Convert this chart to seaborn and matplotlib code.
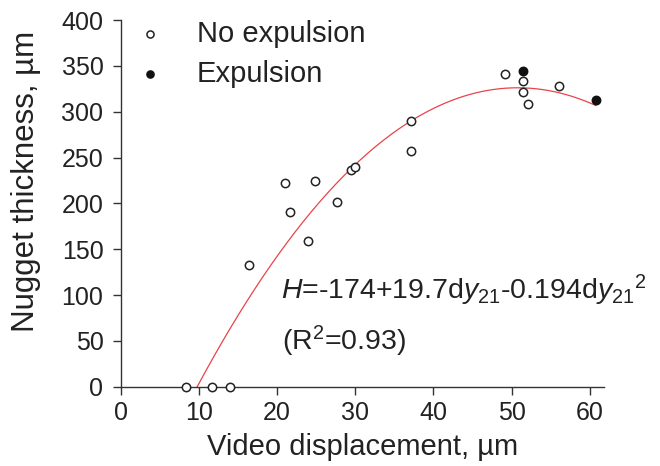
import numpy as np
import pandas as pd
import matplotlib
matplotlib.use("Agg")
import matplotlib.pyplot as plt
import seaborn as sns

# Measured welds: video displacement dy21 (µm) vs nugget thickness H (µm)
no_exp_x = [8.4, 11.7, 14.0, 16.4, 21.0, 21.6, 24.8, 23.9, 27.6, 29.5, 30.0,
            37.1, 37.1, 49.1, 51.4, 51.4, 52.1, 56.1]
no_exp_y = [0, 0, 0, 133, 222, 191, 224, 159, 202, 236, 240,
            290, 257, 341, 334, 321, 308, 328]
exp_x = [51.4, 60.8]
exp_y = [344, 313]

# Quadratic fit H = c0 + c1*dy + c2*dy^2
coef = [-174, 19.7, -0.194]
r_squared = 0.93

x_ticks = [0, 10, 20, 30, 40, 50, 60]
y_ticks = [0, 50, 100, 150, 200, 250, 300, 350, 400]

sns.set_theme(style="ticks")
plt.rcParams["font.family"] = ["Liberation Sans", "DejaVu Sans"]
plt.rcParams["mathtext.fontset"] = "custom"
plt.rcParams["mathtext.rm"] = "Liberation Sans"
plt.rcParams["mathtext.it"] = "Liberation Sans:italic"
plt.rcParams["mathtext.bf"] = "Liberation Sans:bold"

text_col = "#222222"
tick_fs = 18
xlabel_fs = 21
ylabel_fs = 22.5
legend_fs = 21
eq_fs = 20.5

fig = plt.figure(figsize=(6.6, 4.66), dpi=100)
ax = fig.add_axes([0.183, 0.170, 0.732, 0.787])

df_no = pd.DataFrame({"dy": no_exp_x, "H": no_exp_y})
df_ex = pd.DataFrame({"dy": exp_x, "H": exp_y})

# Fitted curve from its root to the last measurement
c0, c1, c2 = coef
root = (-c1 + np.sqrt(c1 ** 2 - 4 * c2 * c0)) / (2 * c2)
xs = np.linspace(root, max(exp_x + no_exp_x), 200)
fit = pd.DataFrame({"dy": xs, "H": c0 + c1 * xs + c2 * xs ** 2})
sns.lineplot(data=fit, x="dy", y="H", ax=ax, color="#e8444a", linewidth=0.9,
             zorder=2, legend=False)

sns.scatterplot(data=df_no, x="dy", y="H", ax=ax, s=36, marker="o",
                facecolor="white", edgecolor="#222222", linewidth=1.1,
                label="No expulsion", zorder=3, clip_on=False)
sns.scatterplot(data=df_ex, x="dy", y="H", ax=ax, s=36, marker="o",
                color="#111111", edgecolor="#111111", linewidth=1.1,
                label="Expulsion", zorder=3, clip_on=False)

ax.set_xlim(0, 61.8)
ax.set_ylim(0, 400)
ax.set_xticks(x_ticks)
ax.set_yticks(y_ticks)
ax.tick_params(axis="both", labelsize=tick_fs, colors="#333333",
               labelcolor=text_col, direction="out", length=6, width=1.0)
ax.tick_params(axis="y", pad=6.5)
ax.tick_params(axis="x", pad=4)
for side in ["top", "right"]:
    ax.spines[side].set_visible(False)
for side in ["left", "bottom"]:
    ax.spines[side].set_color("#333333")
    ax.spines[side].set_linewidth(1.0)

ax.set_xlabel("Video displacement, µm", fontsize=xlabel_fs, color=text_col)
ax.set_ylabel("Nugget thickness, µm", fontsize=ylabel_fs, color=text_col)
ax.xaxis.set_label_coords(0.5, -0.125)
ax.yaxis.set_label_coords(-0.165, 0.56)

leg = ax.legend(loc="upper left", bbox_to_anchor=(0.0, 1.0), frameon=False,
                fontsize=legend_fs, handletextpad=0.6, labelspacing=0.4,
                borderpad=0.0, borderaxespad=0.0, markerscale=0.85)
for t in leg.get_texts():
    t.set_color(text_col)

ax.text(20.5, 95, r"$\it{H}$=-174+19.7d$\it{y}_{21}$-0.194d$\it{y}_{21}{}^{2}$",
        fontsize=eq_fs, color=text_col, va="baseline")
ax.text(20.6, 40, r"(R$^{2}$=%.2f)" % r_squared, fontsize=eq_fs,
        color=text_col, va="baseline")

fig.savefig("out.png", dpi=100, facecolor="white")
